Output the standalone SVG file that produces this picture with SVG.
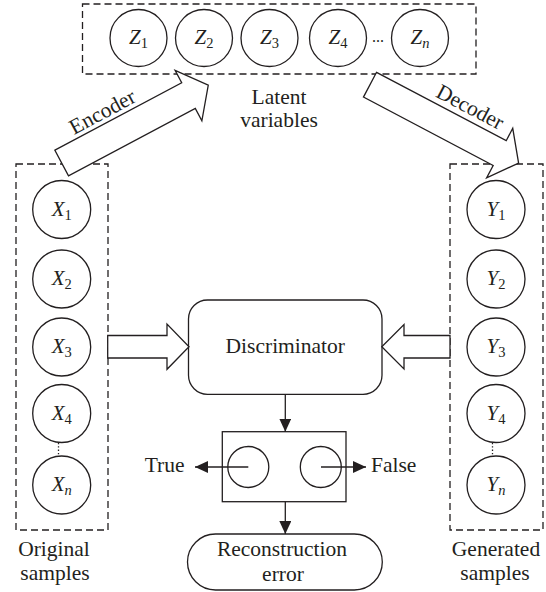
<svg xmlns="http://www.w3.org/2000/svg" width="546" height="592" viewBox="0 0 546 592" font-family="'Liberation Serif', 'DejaVu Serif', serif">
  <style>
    .bg { fill: #ffffff; }
    .dash { fill: none; stroke: #231f20; stroke-width: 1.3; stroke-dasharray: 7 4; }
    .node { fill: #ffffff; stroke: #231f20; stroke-width: 1.3; }
    .box { fill: #ffffff; stroke: #231f20; stroke-width: 1.3; }
    .blk { fill: #ffffff; stroke: #231f20; stroke-width: 1.3; stroke-linejoin: miter; }
    .conn { fill: none; stroke: #231f20; stroke-width: 1.3; }
    .dot { fill: none; stroke: #231f20; stroke-width: 1.3; stroke-dasharray: 1.3 2; }
    text { fill: #231f20; }
    .t { font-size: 21.5px; text-anchor: middle; }
    .v { font-size: 21px; font-style: italic; text-anchor: middle; }
    .sub { font-size: 14.5px; font-style: normal; }
    .isub { font-size: 14.5px; font-style: italic; }
  </style>
  <defs>
    <marker id="head" markerUnits="userSpaceOnUse" markerWidth="14" markerHeight="13" refX="13" refY="6" orient="auto">
      <path d="M0,0 L13,6 L0,12 Z" fill="#231f20"/>
    </marker>
  </defs>

  <rect class="bg" x="0" y="0" width="546" height="592"/>

  <!-- latent variable row -->
  <g id="latent">
    <rect class="dash" x="82.5" y="4" width="393.5" height="70"/>
    <text class="t" x="279" y="104" font-family="Liberation Serif, serif">Latent</text>
    <text class="t" x="279" y="127" font-family="Liberation Serif, serif">variables</text>
  </g>
  <g id="z1"><circle class="node" cx="138.5" cy="38" r="28.5"/><text class="v" x="138.5" y="44">Z<tspan class="sub" dy="4">1</tspan></text></g>
  <g id="z2"><circle class="node" cx="204" cy="38" r="28.5"/><text class="v" x="204" y="44">Z<tspan class="sub" dy="4">2</tspan></text></g>
  <g id="z3"><circle class="node" cx="269.5" cy="38" r="28.5"/><text class="v" x="269.5" y="44">Z<tspan class="sub" dy="4">3</tspan></text></g>
  <g id="z4"><circle class="node" cx="338" cy="38" r="28.5"/><text class="v" x="338" y="44">Z<tspan class="sub" dy="4">4</tspan></text></g>
  <g id="zdots"><text x="378" y="42" style="font-size:16px;text-anchor:middle">...</text></g>
  <g id="zn"><circle class="node" cx="420" cy="38" r="28.5"/><text class="v" x="420" y="44">Z<tspan class="isub" dy="4">n</tspan></text></g>

  <!-- original samples column -->
  <g id="original">
    <rect class="dash" x="16" y="164" width="92" height="366"/>
    <text class="t" x="54" y="556">Original</text>
    <text class="t" x="55" y="580">samples</text>
  </g>
  <g id="x1"><circle class="node" cx="61.7" cy="209.5" r="29"/><text class="v" x="61.7" y="215.5">X<tspan class="sub" dy="4">1</tspan></text></g>
  <g id="x2"><circle class="node" cx="61.7" cy="279" r="29"/><text class="v" x="61.7" y="285">X<tspan class="sub" dy="4">2</tspan></text></g>
  <g id="x3"><circle class="node" cx="61.7" cy="347" r="29"/><text class="v" x="61.7" y="353">X<tspan class="sub" dy="4">3</tspan></text></g>
  <g id="x4"><circle class="node" cx="61.7" cy="413.5" r="29"/><text class="v" x="61.7" y="419.5">X<tspan class="sub" dy="4">4</tspan></text></g>
  <g id="xn"><circle class="node" cx="61.7" cy="485" r="29"/><text class="v" x="61.7" y="491">X<tspan class="isub" dy="4">n</tspan></text></g>

  <!-- generated samples column -->
  <g id="generated">
    <rect class="dash" x="450" y="164" width="93" height="366"/>
    <text class="t" x="496" y="556">Generated</text>
    <text class="t" x="495" y="580">samples</text>
  </g>
  <g id="y1"><circle class="node" cx="496" cy="209.5" r="29"/><text class="v" x="496" y="215.5">Y<tspan class="sub" dy="4">1</tspan></text></g>
  <g id="y2"><circle class="node" cx="496" cy="279" r="29"/><text class="v" x="496" y="285">Y<tspan class="sub" dy="4">2</tspan></text></g>
  <g id="y3"><circle class="node" cx="496" cy="347" r="29"/><text class="v" x="496" y="353">Y<tspan class="sub" dy="4">3</tspan></text></g>
  <g id="y4"><circle class="node" cx="496" cy="413.5" r="29"/><text class="v" x="496" y="419.5">Y<tspan class="sub" dy="4">4</tspan></text></g>
  <g id="yn"><circle class="node" cx="496" cy="485" r="29"/><text class="v" x="496" y="491">Y<tspan class="isub" dy="4">n</tspan></text></g>

  <!-- discriminator -->
  <g id="discriminator">
    <rect class="box" x="188.5" y="300" width="193.5" height="94.3" rx="19" ry="19"/>
    <text class="t" x="285.3" y="353.3">Discriminator</text>
  </g>

  <!-- true / false decision -->
  <g id="decision">
    <rect class="box" x="222.3" y="431.7" width="123.7" height="70"/>
    <circle class="node" cx="248.3" cy="467" r="20.5"/>
    <circle class="node" cx="320.8" cy="467" r="20.5"/>
  </g>
  <g id="true-label"><text x="184.5" y="472" style="font-size:21.5px;text-anchor:end">True</text></g>
  <g id="false-label"><text x="371" y="472" style="font-size:21.5px;text-anchor:start">False</text></g>

  <!-- reconstruction error -->
  <g id="reconstruction">
    <rect class="box" x="187.5" y="534" width="194.8" height="56" rx="28" ry="28"/>
    <text class="t" x="282" y="556">Reconstruction</text>
    <text class="t" x="283" y="581">error</text>
  </g>

  <!-- connectors -->
  <g id="connectors">
    <!-- encoder block arrow -->
    <g transform="translate(61.7,163) rotate(-28)">
      <polygon class="blk" points="0,-14.5 143.6,-14.5 143.6,-28.5 166,0 143.6,28.5 143.6,14.5 0,14.5"/>
      <text class="t" x="60" y="-19">Encoder</text>
    </g>
    <!-- decoder block arrow -->
    <g transform="translate(370,84.7) rotate(27.8)">
      <polygon class="blk" points="0,-14 146.6,-14 146.6,-28 168,0 146.6,28 146.6,14 0,14"/>
      <text class="t" x="99" y="-20">Decoder</text>
    </g>
    <!-- samples into discriminator -->
    <polygon class="blk" points="107.7,335.5 167,335.5 167,324 189,346.7 167,369.3 167,358 107.7,358"/>
    <polygon class="blk" points="450,335.5 404,335.5 404,324.5 381.8,346.7 404,369 404,358 450,358"/>
    <!-- vertical flow -->
    <line class="conn" x1="285.3" y1="394.3" x2="285.3" y2="431.7" marker-end="url(#head)"/>
    <line class="conn" x1="285.3" y1="501.7" x2="285.3" y2="534" marker-end="url(#head)"/>
    <!-- decision outputs -->
    <line class="conn" x1="248.3" y1="467" x2="195" y2="467" marker-end="url(#head)"/>
    <line class="conn" x1="321" y1="467" x2="366" y2="467" marker-end="url(#head)"/>
    <!-- ellipsis links between the last two samples -->
    <line class="dot" x1="58.5" y1="443" x2="58.5" y2="456"/>
    <line class="dot" x1="492.5" y1="443" x2="492.5" y2="456"/>
  </g>
</svg>
